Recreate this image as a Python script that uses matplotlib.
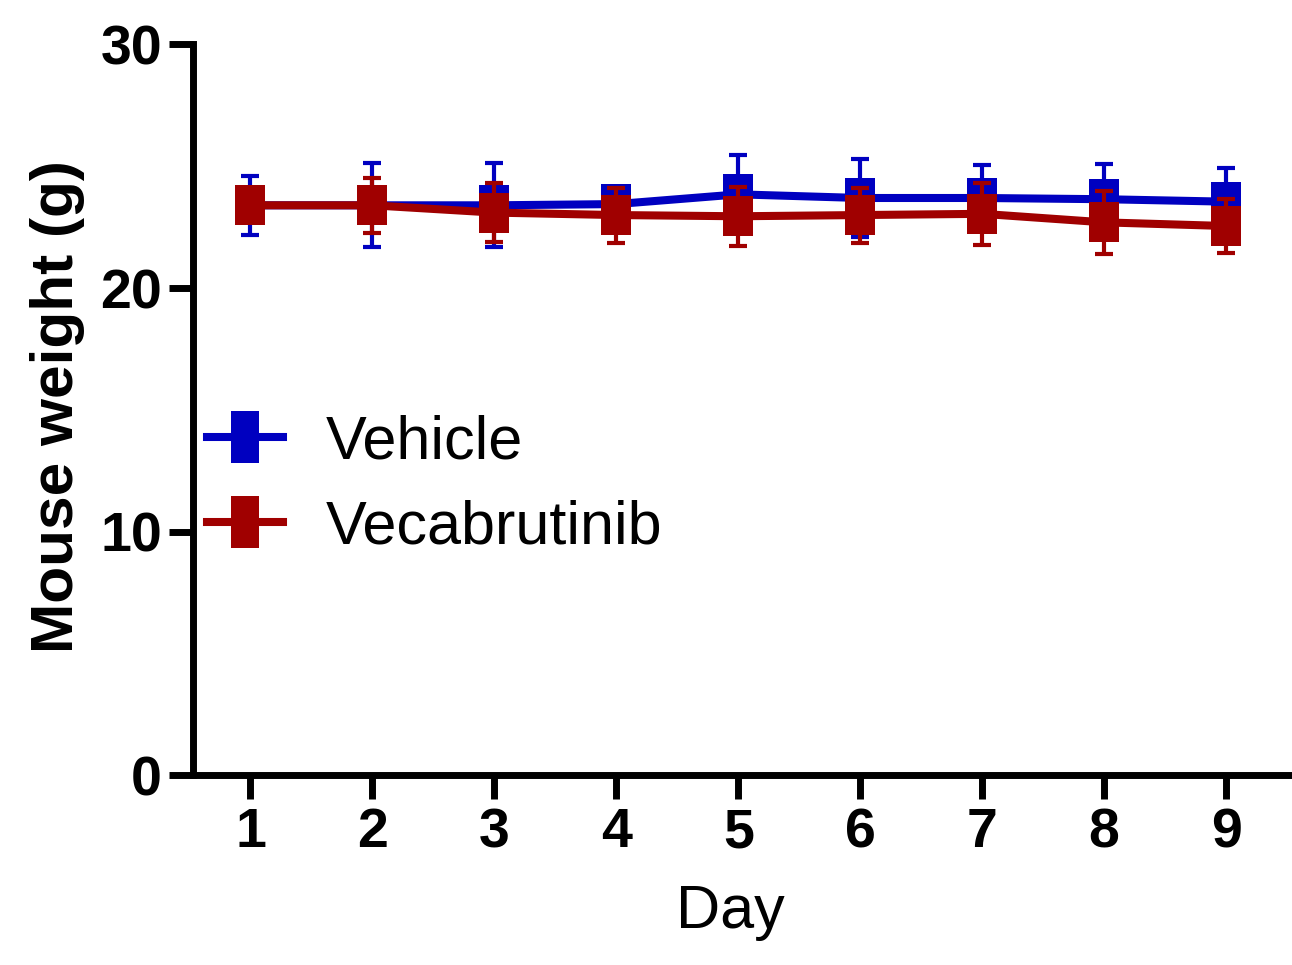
import matplotlib
matplotlib.use("Agg")
import matplotlib.pyplot as plt
from matplotlib.path import Path
from matplotlib.lines import Line2D

days = [1, 2, 3, 4, 5, 6, 7, 8, 9]
vehicle_mean = [23.4, 23.4, 23.4, 23.45, 23.85, 23.7, 23.7, 23.65, 23.55]
vehicle_sd = [1.2, 1.73, 1.73, 0.5, 1.6, 1.6, 1.36, 1.43, 1.4]
vecab_mean = [23.4, 23.4, 23.1, 23.0, 22.95, 23.0, 23.05, 22.7, 22.55]
vecab_sd = [0.7, 1.13, 1.2, 1.13, 1.2, 1.13, 1.27, 1.28, 1.12]
series_labels = ["Vehicle", "Vecabrutinib"]
y_ticks = [0, 10, 20, 30]

BLUE = "#0000C0"
RED = "#A00000"

plt.rcParams["font.family"] = ["Liberation Sans", "DejaVu Sans"]

# tall rectangular marker used for the group means
def rect_marker(ratio):
    w = ratio / 2.0
    verts = [(-w, -0.5), (w, -0.5), (w, 0.5), (-w, 0.5), (-w, -0.5)]
    codes = [Path.MOVETO, Path.LINETO, Path.LINETO, Path.LINETO, Path.CLOSEPOLY]
    return Path(verts, codes)

data_marker = rect_marker(0.74)
legend_marker = rect_marker(0.56)

fig = plt.figure(figsize=(12.92, 9.65), dpi=100)
ax = fig.add_axes([0.149, 0.1964, 0.851, 0.7575])

for mean, sd, color, z in [(vehicle_mean, vehicle_sd, BLUE, 3),
                           (vecab_mean, vecab_sd, RED, 4)]:
    ax.errorbar(days, mean, yerr=sd, fmt="none", ecolor=color,
                elinewidth=3, capsize=6.5, capthick=3, zorder=z)
    ax.plot(days, mean, color=color, lw=5.8, marker=data_marker,
            markersize=29, markeredgewidth=0, zorder=z)

ax.set_xlim(0.525, 9.54)
ax.set_ylim(0, 30)
ax.set_yticks(y_ticks)
ax.set_xticks(days)
ax.set_xticklabels([str(d) for d in days])

for side in ("top", "right"):
    ax.spines[side].set_visible(False)
for side in ("left", "bottom"):
    ax.spines[side].set_linewidth(5)
    ax.spines[side].set_capstyle("projecting")

ax.tick_params(axis="both", direction="out", length=17, width=5,
               labelsize=40, color="black")
ax.tick_params(axis="y", pad=5)
ax.tick_params(axis="x", pad=6)
for lab in ax.get_xticklabels() + ax.get_yticklabels():
    lab.set_fontweight("bold")

ax.set_ylabel("Mouse weight (g)", fontsize=43.5, fontweight="bold")
ax.yaxis.set_label_coords(-0.098, 0.504)
ax.set_xlabel("Day", fontsize=44)
ax.xaxis.set_label_coords(0.489, -0.148)

handles = [Line2D([], [], color=BLUE, lw=5.8, marker=legend_marker,
                  markersize=37, markeredgewidth=0),
           Line2D([], [], color=RED, lw=5.8, marker=legend_marker,
                  markersize=37, markeredgewidth=0)]
leg = ax.legend(handles, series_labels, loc="center left",
                bbox_to_anchor=(0.013, 0.397), frameon=False, fontsize=44,
                handlelength=1.25, handletextpad=0.7, labelspacing=0.45,
                borderaxespad=0.0, borderpad=0.0)

fig.savefig("out.png", dpi=100, facecolor="white")
